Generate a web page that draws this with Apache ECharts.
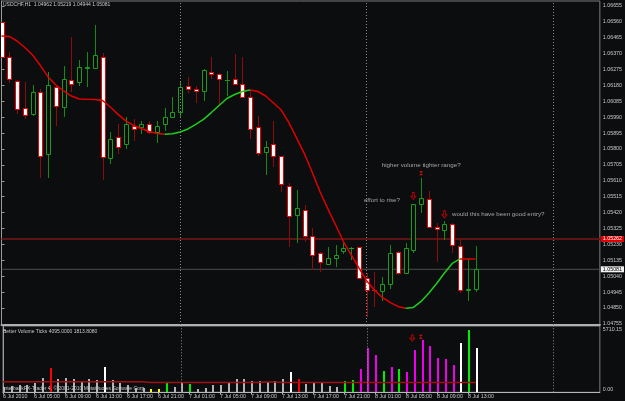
<!DOCTYPE html>
<html><head><meta charset="utf-8">
<script src="https://cdn.jsdelivr.net/npm/echarts@6/dist/echarts.min.js"></script>
<style>html,body{margin:0;padding:0;background:#0c0d0f;}#c{width:625px;height:401px;}</style>
</head><body><div id="c"></div>
<script>
const symbolTitle = 'USDCHF,H1  1.04962 1.05219 1.04944 1.05081';
const volumeTitle = 'Better Volume Ticks 4095.0000 1813.8080';
const copyrightText = 'InterbankFX-Trader 4, \u00A9 2001-2010 MetaQuotes Software Corp.';

const timeTickIndex = [0,4,8,12,16,20,24,28,32,36,40,44,48,52,56,60];
const timeTickLabels = ['6 Jul 2010','6 Jul 05:00','6 Jul 09:00','6 Jul 13:00','6 Jul 17:00','6 Jul 21:00',
  '7 Jul 01:00','7 Jul 05:00','7 Jul 09:00','7 Jul 13:00','7 Jul 17:00','7 Jul 21:00',
  '8 Jul 01:00','8 Jul 05:00','8 Jul 09:00','8 Jul 13:00'];
const daySeparators = [23, 47, 71];

const priceTicks = [1.06655,1.06560,1.06465,1.06370,1.06275,1.06180,1.06085,1.05990,1.05895,1.05800,
  1.05705,1.05610,1.05515,1.05420,1.05325,1.05230,1.05135,1.05040,1.04945,1.04850,1.04755];
const volumeTicks = [0, 5710.15];

const opens = [1.06558,1.06348,1.06209,1.06047,1.06008,1.06139,1.05769,1.06169,1.06050,1.06211,
1.06199,1.06287,1.06283,1.06348,1.05745,1.05870,1.05828,1.05938,1.05930,1.05948,
1.05900,1.05948,1.05990,1.06020,1.06179,1.06159,1.06149,1.06261,1.06249,1.06210,
1.06217,1.06191,1.06109,1.05929,1.05781,1.05830,1.05758,1.05577,1.05406,1.05436,
1.05278,1.05179,1.05115,1.05147,1.05189,1.05207,1.05213,1.05029,1.04960,1.04953,
1.04993,1.05183,1.05057,1.05197,1.05470,1.05501,1.05331,1.05316,1.05350,1.05222,
1.04960,1.04962];
const closes = [1.06352,1.06219,1.06041,1.06002,1.06139,1.05758,1.06181,1.06057,1.06217,1.06191,
1.06289,1.06290,1.06360,1.05751,1.05860,1.05814,1.05950,1.05918,1.05950,1.05900,
1.05938,1.05990,1.06020,1.06169,1.06161,1.06147,1.06271,1.06249,1.06219,1.06213,
1.06187,1.06111,1.05918,1.05779,1.05814,1.05758,1.05589,1.05398,1.05448,1.05278,
1.05167,1.05127,1.05147,1.05167,1.05208,1.05210,1.05027,1.04956,1.04957,1.04991,
1.05177,1.05061,1.05207,1.05470,1.05506,1.05331,1.05319,1.05350,1.05226,1.04957,
1.04963,1.05081];
const lows = [1.06344,1.06195,1.06010,1.05978,1.05999,1.05629,1.05629,1.05940,1.05990,1.06139,
1.06179,1.06169,1.06279,1.05615,1.05709,1.05769,1.05800,1.05850,1.05888,1.05890,
1.05838,1.05910,1.05986,1.05990,1.06133,1.06073,1.06089,1.06221,1.06059,1.06119,
1.06183,1.06108,1.05858,1.05758,1.05645,1.05694,1.05545,1.05216,1.05237,1.05243,
1.05077,1.05067,1.05111,1.05097,1.05171,1.05137,1.05023,1.04798,1.04856,1.04892,
1.04963,1.05047,1.05053,1.05180,1.05416,1.05328,1.05127,1.05256,1.05180,1.04938,
1.04893,1.04944];
const highs = [1.06562,1.06380,1.06210,1.06201,1.06181,1.06157,1.06259,1.06183,1.06298,1.06472,
1.06331,1.06380,1.06542,1.06372,1.05900,1.05950,1.05990,1.05980,1.05968,1.05968,
1.05969,1.06047,1.06109,1.06203,1.06229,1.06179,1.06279,1.06348,1.06255,1.06267,
1.06368,1.06348,1.06149,1.05998,1.05848,1.05969,1.05761,1.05595,1.05555,1.05466,
1.05326,1.05185,1.05213,1.05226,1.05240,1.05212,1.05217,1.05059,1.05062,1.05033,
1.05225,1.05192,1.05237,1.05474,1.05627,1.05547,1.05358,1.05370,1.05355,1.05260,
1.05141,1.05219];

const maValues = [1.06476,1.06473,1.06446,1.06407,1.06362,1.06299,1.06231,1.06183,1.06147,1.06117,
1.06099,1.06097,1.06096,1.06090,1.06051,1.06007,1.05968,1.05941,1.05923,1.05905,
1.05893,1.05888,1.05891,1.05902,1.05920,1.05947,1.05977,1.06018,1.06060,1.06102,
1.06126,1.06144,1.06153,1.06144,1.06117,1.06075,1.06033,1.05956,1.05864,1.05770,
1.05660,1.05543,1.05442,1.05346,1.05247,1.05167,1.05089,1.05011,1.04957,1.04913,
1.04883,1.04859,1.04848,1.04853,1.04889,1.04939,1.04996,1.05059,1.05116,1.05143,
1.05142,1.05142];

const volumes = [520,610,700,642,880,1283,2255,1219,1283,1219,
944,1191,1127,2346,1127,880,642,367,422,302,
275,880,458,825,733,302,394,642,642,880,
1191,1191,1063,1063,944,1036,1191,1833,1191,733,
880,880,577,458,1036,1127,2135,4060,3391,1952,
2319,2135,1888,3877,4793,4243,3144,3024,2502,4518,
5710,4095];
const volumeTypes = ['n','n','n','n','n','n','r','n','n','n',
'n','n','n','w','n','n','n','n','n','y',
'y','g','n','n','g','n','n','n','n','n',
'n','n','n','n','n','n','n','w','r','n',
'n','n','n','n','g','g','m','m','m','g',
'm','g','m','m','m','m','m','m','m','w',
'g','w'];
const volumeAverage = [975,975,975,975,975,975,975,975,975,975,
975,975,975,975,975,975,975,975,975,900,
900,900,900,900,900,900,900,900,900,900,
900,900,900,900,950,950,900,900,900,900,
900,900,900,900,900,900,900,900,900,900,
900,900,900,900,900,900,900,900,900,900,
900,900];

const resistanceLevel = 1.05262;
const bidLevel = 1.05081;

const arrowX = [53, 57];
const arrowY = [1.05519, 1.05409];
const crossX = [54];
const crossY = [1.05655];
const volArrowX = [52.8];
const volArrowY = [4977];
const volCrossX = [53.9];
const volCrossY = [5096];

const noteTexts = ['higher volume tighter range?', 'effort to rise?', 'would this have been good entry?'];
const noteX = [48.94, 46.64, 57.97];
const noteY = [1.05705, 1.05495, 1.05412];

// ---------- build ----------
const FONT = 'Liberation Sans';
const TXT = '#c8c8c8';
const BG = '#0c0d0f';
const X_MIN = 0, X_MAX = 77;
const volColor = {n:'#b4b4b4', w:'#ffffff', r:'#ff0000', y:'#ffff00', g:'#00ee00', m:'#ee00ee'};

const candleData = opens.map((o,i)=>[i,o,closes[i],lows[i],highs[i]]);
const volData = volumes.map((v,i)=>[i,v]);
const maRed = maValues.map((v,i)=>[i,'-']);
const maGreen = maValues.map((v,i)=>[i,'-']);
for (let i=0;i<maValues.length-1;i++){
  const target = maValues[i+1] > maValues[i] ? maGreen : maRed;
  target[i] = [i, maValues[i]];
  target[i+1] = [i+1, maValues[i+1]];
}

function candleItem(params, api){
  const i=api.value(0), o=api.value(1), c=api.value(2), l=api.value(3), h=api.value(4);
  const po=api.coord([i,o]), pc=api.coord([i,c]), pl=api.coord([i,l]), ph=api.coord([i,h]);
  const x=Math.round(po[0]);
  const bull=c>=o;
  const yTop=Math.round(Math.min(po[1],pc[1])), yBot=Math.round(Math.max(po[1],pc[1]));
  const wick=bull?'#148a14':'#8e0b0b';
  const edge=bull?'#1c9c1c':'#f00000';
  const fill=bull?BG:'#ffffff';
  const yh=Math.round(ph[1]), yl=Math.round(pl[1]);
  const kids=[{type:'rect', shape:{x:x, y:yh, width:1, height:Math.max(1,yl-yh)}, style:{fill:wick}}];
  if (yBot-yTop<1){
    kids.push({type:'rect', shape:{x:x-2,y:yTop,width:5,height:1}, style:{fill:edge}});
  } else {
    kids.push({type:'rect', shape:{x:x-2+0.5,y:yTop+0.5,width:4,height:yBot-yTop}, style:{fill:fill, stroke:edge, lineWidth:1}});
  }
  return {type:'group', children:kids};
}
function volItem(params, api){
  const i=api.value(0), v=api.value(1);
  const p0=api.coord([i,0]), p1=api.coord([i,v]);
  const x=Math.round(p0[0]);
  const y1=Math.round(p1[1]), y0=Math.round(p0[1]);
  return {type:'rect', shape:{x:x, y:y1, width:2, height:y0-y1}, style:{fill:volColor[volumeTypes[i]]}};
}

function levelSeries(level, color, width, boxBg, boxFg){
  return {type:'line', xAxisIndex:0, yAxisIndex:0, data:[[X_MIN, level],[X_MAX, level]], showSymbol:false,
    lineStyle:{color:color, width:width}, z:2, silent:true, clip:false,
    endLabel:{show:true, distance:1, formatter: level.toFixed(5), color:boxFg, backgroundColor:boxBg,
      padding:[1,2,0,2], fontSize:5.3, fontFamily:FONT}};
}

const arrowPath = 'path://M3,0 L7,0 L7,6 L10,6 L5,11 L0,6 L3,6 Z';
const crossPath = 'path://M0,0 L10,0 L5,5 Z M0,10 L10,10 L5,5 Z';
const sepLine = {type:[1,2], color:'#8c8c8c', width:1};

const option = {
  backgroundColor: BG,
  animation: false,
  textStyle: {fontFamily: FONT},
  title: [
    {text: symbolTitle, left: 3, top: 2.5, padding: 0, textStyle:{fontSize:5, color:TXT, fontWeight:'normal', fontFamily:FONT}},
    {text: volumeTitle, left: 3, top: 329.5, padding: 0, textStyle:{fontSize:5, color:TXT, fontWeight:'normal', fontFamily:FONT}},
    {text: copyrightText, left: 3, top: 386.5, padding: 0, textStyle:{fontSize:5, color:TXT, fontWeight:'normal', fontFamily:FONT}}
  ],
  grid: [
    {left: 1.5, top: 1, width: 605, height: 324, show: true, borderColor: '#7c7c7c', borderWidth: 1, backgroundColor: 'transparent'},
    {left: 1.5, top: 326, width: 605, height: 66.3, show: true, borderColor: '#7c7c7c', borderWidth: 1, backgroundColor: 'transparent'}
  ],
  xAxis: [
    {type:'value', gridIndex:0, min:X_MIN, max:X_MAX, position:'bottom',
     axisLine:{show:true, onZero:false, lineStyle:{color:'#b0b0b0', width:2}},
     axisTick:{show:false}, axisLabel:{show:false}, splitLine:{show:false}},
    {type:'value', gridIndex:1, min:X_MIN, max:X_MAX, position:'bottom',
     axisLine:{show:true, onZero:false, lineStyle:{color:'#b8b8b8', width:1}},
     axisTick:{show:true, customValues: timeTickIndex, length:2, lineStyle:{color:'#b8b8b8'}},
     axisLabel:{show:true, customValues: timeTickIndex, align:'left', margin:2, fontSize:5.3, color:TXT, fontFamily:FONT,
       formatter: v => timeTickLabels[timeTickIndex.indexOf(v)]},
     splitLine:{show:false}}
  ],
  yAxis: [
    {type:'value', gridIndex:0, position:'right', min:1.04748, max:1.06685,
     axisLine:{show:true, lineStyle:{color:'#9a9a9a'}},
     axisTick:{show:true, customValues: priceTicks, length:3, lineStyle:{color:'#9a9a9a'}},
     axisLabel:{show:true, customValues: priceTicks, margin:3, fontSize:5.3, color:TXT, fontFamily:FONT,
       formatter: v => v.toFixed(5)},
     splitLine:{show:false}},
    {type:'value', gridIndex:1, position:'right', min:0, max:6076.8,
     axisLine:{show:true, lineStyle:{color:'#9a9a9a'}},
     axisTick:{show:true, customValues: volumeTicks, length:3, lineStyle:{color:'#9a9a9a'}},
     axisLabel:{show:true, customValues: volumeTicks, margin:3, fontSize:5.3, color:TXT, fontFamily:FONT,
       formatter: v => v === 0 ? '{lo|' + v.toFixed(2) + '}' : v.toFixed(2),
       rich:{lo:{fontSize:5.3, color:TXT, fontFamily:FONT, padding:[0,0,6,0]}}},
     splitLine:{show:false}}
  ],
  series: [
    levelSeries(resistanceLevel, '#5e1414', 2, '#e00000', '#ffffff'),
    levelSeries(bidLevel, '#4e4e4e', 1, '#f2f2f2', '#000000'),
    {type:'line', xAxisIndex:0, yAxisIndex:0, data:[], silent:true,
     markLine:{silent:true, symbol:['none','none'], animation:false,
       data: daySeparators.map(d=>({xAxis:d, lineStyle:sepLine, label:{show:false}}))}},
    {type:'line', xAxisIndex:1, yAxisIndex:1, data:[], silent:true,
     markLine:{silent:true, symbol:['none','none'], animation:false,
       data: daySeparators.map(d=>({xAxis:d, lineStyle:sepLine, label:{show:false}}))}},
    {type:'custom', name:'USDCHF', xAxisIndex:0, yAxisIndex:0, renderItem:candleItem, clip:true,
     encode:{x:0, y:[1,2,3,4]}, data:candleData, z:3},
    {type:'line', xAxisIndex:0, yAxisIndex:0, data:maRed, showSymbol:false, connectNulls:false,
     lineStyle:{color:'#e00000', width:1.5}, z:4, silent:true},
    {type:'line', xAxisIndex:0, yAxisIndex:0, data:maGreen, showSymbol:false, connectNulls:false,
     lineStyle:{color:'#1ccf1c', width:1.5}, z:4, silent:true},
    {type:'scatter', xAxisIndex:0, yAxisIndex:0, symbol:arrowPath, symbolSize:[5,7],
     data: arrowX.map((x,i)=>[x, arrowY[i]]),
     itemStyle:{color:'rgba(0,0,0,0)', borderColor:'#d40000', borderWidth:1}, z:5, silent:true},
    {type:'scatter', xAxisIndex:0, yAxisIndex:0, symbol:crossPath, symbolSize:4,
     data: crossX.map((x,i)=>[x, crossY[i]]), itemStyle:{color:'#ff1010'}, z:5, silent:true},
    {type:'scatter', xAxisIndex:0, yAxisIndex:0, symbolSize:0,
     data: noteX.map((x,i)=>[x, noteY[i], noteTexts[i]]),
     label:{show:true, position:'right', distance:0, color:TXT, fontSize:6.2, fontFamily:FONT,
       formatter: p => p.value[2]}, z:6, silent:true},
    {type:'custom', name:'Volume', xAxisIndex:1, yAxisIndex:1, renderItem:volItem, clip:true,
     encode:{x:0, y:1}, data:volData, z:3},
    {type:'line', xAxisIndex:1, yAxisIndex:1, data: volumeAverage.map((v,i)=>[i,v]), showSymbol:false,
     lineStyle:{color:'#a01010', width:1.5}, z:4, silent:true},
    {type:'scatter', xAxisIndex:1, yAxisIndex:1, symbol:arrowPath, symbolSize:[5,6],
     data: volArrowX.map((x,i)=>[x, volArrowY[i]]),
     itemStyle:{color:'rgba(0,0,0,0)', borderColor:'#d40000', borderWidth:1}, z:5, silent:true},
    {type:'scatter', xAxisIndex:1, yAxisIndex:1, symbol:crossPath, symbolSize:4,
     data: volCrossX.map((x,i)=>[x, volCrossY[i]]), itemStyle:{color:'#ff1010'}, z:5, silent:true}
  ]
};
const chart = echarts.init(document.getElementById('c'), null, {renderer:'canvas', width:625, height:401});
chart.setOption(option);
</script>
</body></html>
